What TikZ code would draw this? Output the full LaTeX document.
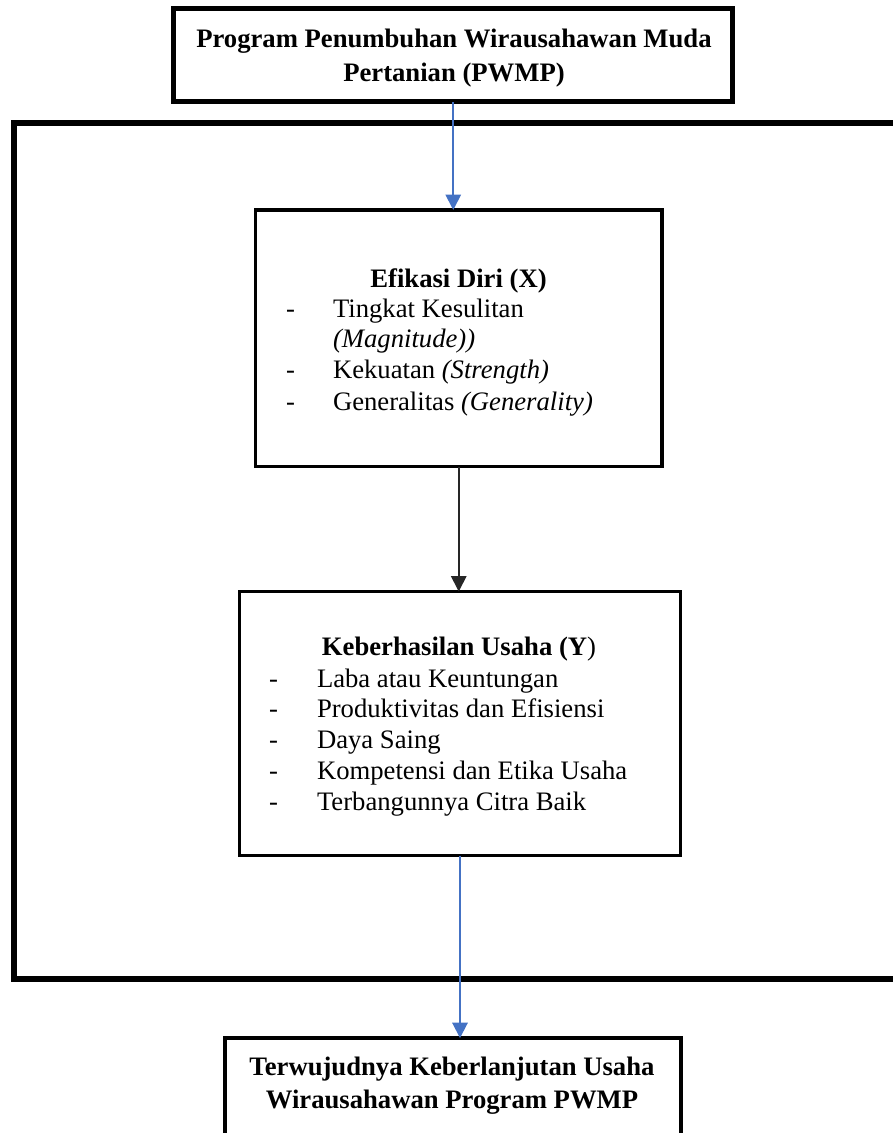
\documentclass[tikz,border=0pt]{standalone}
\usepackage{fontspec}
\setmainfont{Liberation Serif}
\usetikzlibrary{arrows.meta}
\definecolor{linkblue}{HTML}{4472C4}
\begin{document}
\begin{tikzpicture}[x=0.75pt,y=-0.75pt,
  every node/.style={inner sep=0pt, outer sep=0pt, font=\fontsize{20}{23.25}\selectfont},
  box/.style={draw=black, rectangle, fill=white},
  item/.style={anchor=base west},
  heading/.style={anchor=base, font=\fontsize{20}{23.25}\selectfont\bfseries},
  bluearrow/.style={draw=linkblue, line width=1.4pt, -{Triangle[length=11.5pt,width=11.5pt]}},
  blackarrow/.style={draw=black!85, line width=1.3pt, -{Triangle[length=11.5pt,width=11.5pt]}}]
\useasboundingbox (0,0) rectangle (893,1133);

% outer frame around the two variables (right side runs off the page)
\draw[line width=4.5pt] (13.5,123) rectangle (930,979);

% boxes
\node[box, line width=3.75pt, minimum width=419.6pt, minimum height=70.1pt] (prog) at (453.25,55.25) {};
\node[box, line width=2.4pt, minimum width=304.9pt, minimum height=192.4pt] (efi) at (458.75,338.25) {};
\node[box, line width=2.4pt, minimum width=330.75pt, minimum height=198pt] (keb) at (460,723.5) {};
\node[box, line width=3pt, minimum width=342pt, minimum height=100pt] (hasil) at (453,1104.7) {};

% program box text
\node[heading] (prog1) at (454,47) {Program Penumbuhan Wirausahawan Muda};
\node[heading] (prog2) at (454,81) {Pertanian (PWMP)};

% self-efficacy box text
\node[heading] (efiT) at (458.5,287) {Efikasi Diri (X)};
\node[item] (efd1) at (286,317) {-};
\node[item] (efi1) at (333,317) {Tingkat Kesulitan};
\node[item] (efi1b) at (333,347) {\textit{(Magnitude))}};
\node[item] (efd2) at (286,378) {-};
\node[item] (efi2) at (333,378) {Kekuatan \textit{(Strength)}};
\node[item] (efd3) at (286,410) {-};
\node[item] (efi3) at (333,410) {Generalitas \textit{(Generality)}};

% business success box text
\node[anchor=base] (kebT) at (459,655) {\textbf{Keberhasilan Usaha (Y})};
\node[item] (kbd1) at (269,687) {-};
\node[item] (keb1) at (317,687) {Laba atau Keuntungan};
\node[item] (kbd2) at (269,717) {-};
\node[item] (keb2) at (317,717) {Produktivitas dan Efisiensi};
\node[item] (kbd3) at (269,748) {-};
\node[item] (keb3) at (317,748) {Daya Saing};
\node[item] (kbd4) at (269,779) {-};
\node[item] (keb4) at (317,779) {Kompetensi dan Etika Usaha};
\node[item] (kbd5) at (269,810) {-};
\node[item] (keb5) at (317,810) {Terbangunnya Citra Baik};

% outcome box text
\node[heading] (has1) at (452,1075) {Terwujudnya Keberlanjutan Usaha};
\node[heading] (has2) at (452,1108) {Wirausahawan Program PWMP};

% connectors
\draw[bluearrow] (prog.south) -- (prog.south |- efi.north);
\draw[blackarrow] (efi.south) -- (efi.south |- keb.north);
\draw[bluearrow] (keb.south) -- (keb.south |- hasil.north);
\end{tikzpicture}
\end{document}
